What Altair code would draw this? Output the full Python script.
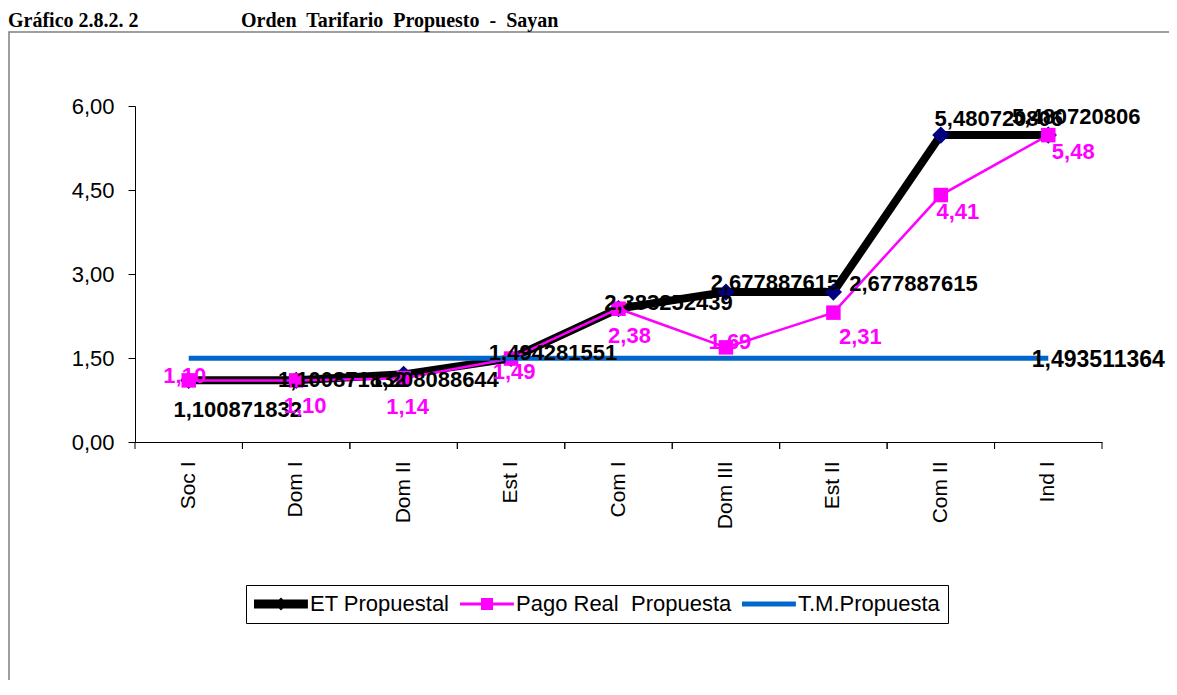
import altair as alt
import pandas as pd

# ---------------- data ----------------
categories = ["Soc I", "Dom I", "Dom II", "Est I", "Com I", "Dom III", "Est II", "Com II", "Ind I"]
et_values = [1.100871832, 1.100871832, 1.208088644, 1.494281551, 2.383252439,
             2.677887615, 2.677887615, 5.480720806, 5.480720806]
pago_values = [1.10, 1.10, 1.14, 1.49, 2.38, 1.69, 2.31, 4.41, 5.48]
tm_values = [1.493511364] * 9
series_names = ["ET Propuestal", "Pago Real\u00a0 Propuesta", "T.M.Propuesta"]
y_ticks = [0, 1.5, 3, 4.5, 6]
title_left = "Gráfico 2.8.2. 2"
title_right = "Orden\u00a0 Tarifario\u00a0 Propuesto\u00a0 -\u00a0 Sayan"

# label placement (pixel offsets of each data label from its point, as in the original)
et_label_offsets = [(49, 30), (46, 0), (31, 6), (42, -5), (50, -6), (49, -9), (80, -8), (58, -16), (28, -18)]
pago_label_offsets = [(-4, -4), (9, 26), (4, 29), (3, 13), (11, 27), (4, -5), (27, 24), (17, 17), (25, 17)]
tm_label_offset = (50, 2)

def comma(v, fmt):
    return format(v, fmt).replace(".", ",")

et_df = pd.DataFrame({"cat": categories, "value": et_values,
                      "label": [comma(v, ".9f") for v in et_values]})
pago_df = pd.DataFrame({"cat": categories, "value": pago_values,
                        "label": [comma(v, ".2f") for v in pago_values]})
tm_df = pd.DataFrame({"cat": categories, "value": tm_values,
                      "label": [comma(v, ".9f") for v in tm_values]})
legend_df = pd.DataFrame({"series": series_names, "cat": categories[:3], "value": [0, 0, 0]})
one_df = pd.DataFrame({"a": [0]})

FONT = "Liberation Sans"
W, H = 967, 336

x_enc = alt.X("cat:N", sort=categories,
              scale=alt.Scale(type="band", paddingInner=0, paddingOuter=0),
              axis=alt.Axis(title=None, ticks=False, labelAngle=270, labelFontSize=21,
                            labelFont=FONT, labelColor="black", labelPadding=19,
                            domainColor="black", domainWidth=1))
y_enc = alt.Y("value:Q", scale=alt.Scale(domain=[0, 6], nice=False),
              axis=alt.Axis(title=None, values=y_ticks, grid=False, tickSize=7,
                            tickColor="black", domainColor="black", labelFontSize=22,
                            labelFont=FONT, labelColor="black", labelPadding=14,
                            labelExpr="replace(format(datum.value, '.2f'), '.', ',')"))

frame = alt.Chart(one_df).mark_rect(fillOpacity=0, stroke="#7f7f7f", strokeWidth=1.5, clip=False).encode(
    x=alt.value(-126), x2=alt.value(3000), y=alt.value(-74), y2=alt.value(3000))
title1 = alt.Chart(one_df).mark_text(text=title_left, font="Liberation Serif", fontWeight="bold",
                                    fontSize=20, align="left", baseline="alphabetic").encode(
    x=alt.value(-127), y=alt.value(-79))
title2 = alt.Chart(one_df).mark_text(text=title_right, font="Liberation Serif", fontWeight="bold",
                                    fontSize=20, align="left", baseline="alphabetic").encode(
    x=alt.value(106), y=alt.value(-79))

ticks_l = alt.Chart(et_df).mark_rule(color="black").encode(
    x=alt.X("cat:N", sort=categories, bandPosition=0), y=alt.value(H), y2=alt.value(H + 7))
ticks_r = alt.Chart(et_df).mark_rule(color="black").encode(
    x=alt.X("cat:N", sort=categories, bandPosition=1), y=alt.value(H), y2=alt.value(H + 7))

et_line = alt.Chart(et_df).mark_line(color="black", strokeWidth=8).encode(x=x_enc, y=y_enc)
et_pts = alt.Chart(et_df).mark_point(shape="diamond", filled=True, color="#000080",
                                     size=300, opacity=1).encode(x=x_enc, y=y_enc)
pago_line = alt.Chart(pago_df).mark_line(color="#FF00FF", strokeWidth=2.5).encode(x=x_enc, y=y_enc)
pago_pts = alt.Chart(pago_df).mark_square(color="#FF00FF", size=210, opacity=1).encode(x=x_enc, y=y_enc)
tm_line = alt.Chart(tm_df).mark_line(color="#0066CC", strokeWidth=5).encode(x=x_enc, y=y_enc)

# legend glyphs: a 54px line segment (with its marker) drawn from a 22px symbol slot
shape_paths = [
    "M-1,-0.41H3.9V0.41H-1Z M1.455,-0.6L2.055,0L1.455,0.6L0.855,0Z",
    "M-1,-0.136H3.9V0.136H-1Z M0.91,-0.545H2V0.545H0.91Z",
    "M-1,-0.227H3.9V0.227H-1Z",
]
legend = alt.Legend(title=None, orient="none", legendX=111, legendY=479, direction="horizontal",
                    symbolSize=484, symbolOpacity=1, symbolStrokeWidth=0, labelFont=FONT,
                    labelFontSize=22, labelColor="black", labelOffset=34, columnPadding=10,
                    padding=8, strokeColor="black", fillColor="white", labelLimit=400)
legend_layer = alt.Chart(legend_df).mark_point(filled=True, opacity=0).encode(
    x=x_enc, y=y_enc,
    color=alt.Color("series:N", sort=series_names,
                    scale=alt.Scale(domain=series_names, range=["black", "#FF00FF", "#0066CC"]),
                    legend=legend),
    shape=alt.Shape("series:N", sort=series_names,
                    scale=alt.Scale(domain=series_names, range=shape_paths),
                    legend=legend),
)

labels = []
for i, c in enumerate(categories):
    dx, dy = et_label_offsets[i]
    labels.append(alt.Chart(et_df).transform_filter(alt.datum.cat == c).mark_text(
        font=FONT, fontWeight="bold", fontSize=22, color="black", dx=dx, dy=dy).encode(
        x=x_enc, y=y_enc, text="label:N"))
for i, c in enumerate(categories):
    dx, dy = pago_label_offsets[i]
    labels.append(alt.Chart(pago_df).transform_filter(alt.datum.cat == c).mark_text(
        font=FONT, fontWeight="bold", fontSize=22, color="#FF00FF", dx=dx, dy=dy).encode(
        x=x_enc, y=y_enc, text="label:N"))
labels.append(alt.Chart(tm_df).transform_filter(alt.datum.cat == categories[-1]).mark_text(
    font=FONT, fontWeight="bold", fontSize=23, color="black",
    dx=tm_label_offset[0], dy=tm_label_offset[1]).encode(x=x_enc, y=y_enc, text="label:N"))

chart = alt.layer(
    frame, title1, title2, legend_layer, et_line, et_pts, pago_line, pago_pts, tm_line,
    ticks_l, ticks_r, *labels
).properties(
    width=W, height=H,
    autosize=alt.AutoSizeParams(type="none"),
    padding={"left": 127, "top": 98, "right": 67, "bottom": 238},
    background="white",
).configure_view(stroke=None)

chart.save("out.html", embed_options={"renderer": "svg", "actions": False})
